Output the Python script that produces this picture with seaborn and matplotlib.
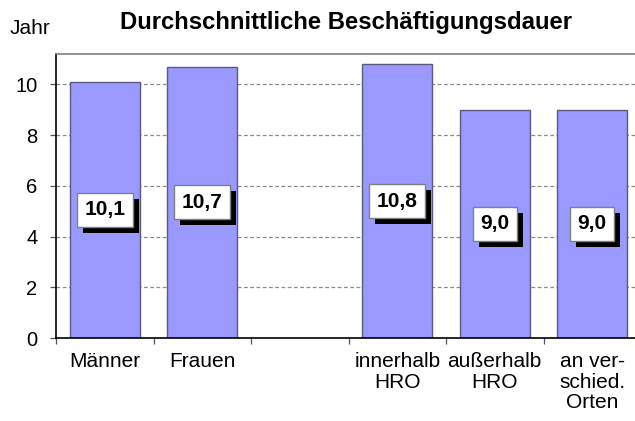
import matplotlib
matplotlib.use("Agg")
import matplotlib.pyplot as plt
import matplotlib.patheffects as pe
import seaborn as sns
import pandas as pd
import numpy as np

categories = ["Männer", "Frauen", " ", "innerhalb\nHRO", "außerhalb\nHRO", "an ver-\nschied.\nOrten"]
values = [10.1, 10.7, np.nan, 10.8, 9.0, 9.0]
y_ticks = [0, 2, 4, 6, 8, 10]
title = "Durchschnittliche Beschäftigungsdauer"
y_unit = "Jahr"

sns.set_style("white")
plt.rcParams["font.family"] = ["Liberation Sans", "DejaVu Sans"]
plt.rcParams["text.color"] = "black"
plt.rcParams["xtick.color"] = "black"
plt.rcParams["ytick.color"] = "black"
plt.rcParams["axes.labelcolor"] = "black"

df = pd.DataFrame({"cat": categories, "val": values})

W, H = 635, 421
fig = plt.figure(figsize=(W / 100, H / 100), dpi=100)
ax = fig.add_axes([56 / W, (H - 338) / H, 585 / W, (338 - 54) / H])

sns.barplot(data=df, x="cat", y="val", order=categories, ax=ax,
            color="#9999FF", saturation=1, width=0.72, errorbar=None,
            edgecolor="#5a5a80", linewidth=1, zorder=2)

ax.set_xlim(-0.5, len(categories) - 0.5)
ax.set_ylim(0, 11.2)
ax.set_yticks(y_ticks)
ax.set_yticklabels([str(t) for t in y_ticks], fontsize=14.5)
ax.yaxis.grid(True, color="#8a8a8a", linestyle=(0, (3, 2)), linewidth=0.9, zorder=0)
ax.set_axisbelow(True)
ax.tick_params(axis="y", length=4.3, width=0.9, color="#555555", pad=9, left=True)

ax.set_xticks(range(len(categories)))
ax.set_xticklabels(categories, fontsize=15, linespacing=1.12)
ax.tick_params(axis="x", which="major", length=0, pad=10)
ax.set_xticks(np.arange(-0.5, len(categories), 1.0), minor=True)
ax.tick_params(axis="x", which="minor", length=4.5, width=0.9, color="#555555", bottom=True)
ax.set_xlabel("")
ax.set_ylabel("")

for s in ["left", "bottom"]:
    ax.spines[s].set_color("black")
    ax.spines[s].set_linewidth(1.2)
ax.spines["top"].set_color("#808080")
ax.spines["top"].set_linewidth(1.2)
ax.spines["right"].set_visible(False)

for i, v in enumerate(values):
    if np.isnan(v):
        continue
    txt = f"{v:.1f}".replace(".", ",")
    t = ax.annotate(txt, xy=(i, v / 2), ha="center", va="center", fontsize=15,
                    fontweight="bold", color="black",
                    bbox=dict(boxstyle="square,pad=0.36", facecolor="white",
                              edgecolor="#808080", linewidth=1),
                    zorder=6)
    t.get_bbox_patch().set_path_effects([
        pe.SimplePatchShadow(offset=(4.3, -4.3), shadow_rgbFace="black", alpha=1.0),
        pe.Normal()])

fig.text(346.5 / W, (H - 29) / H, title, ha="center", va="baseline",
         fontsize=17.2, fontweight="bold")
fig.text(9.5 / W, (H - 34.3) / H, y_unit, ha="left", va="baseline", fontsize=15)

fig.savefig("out.png", dpi=100)
